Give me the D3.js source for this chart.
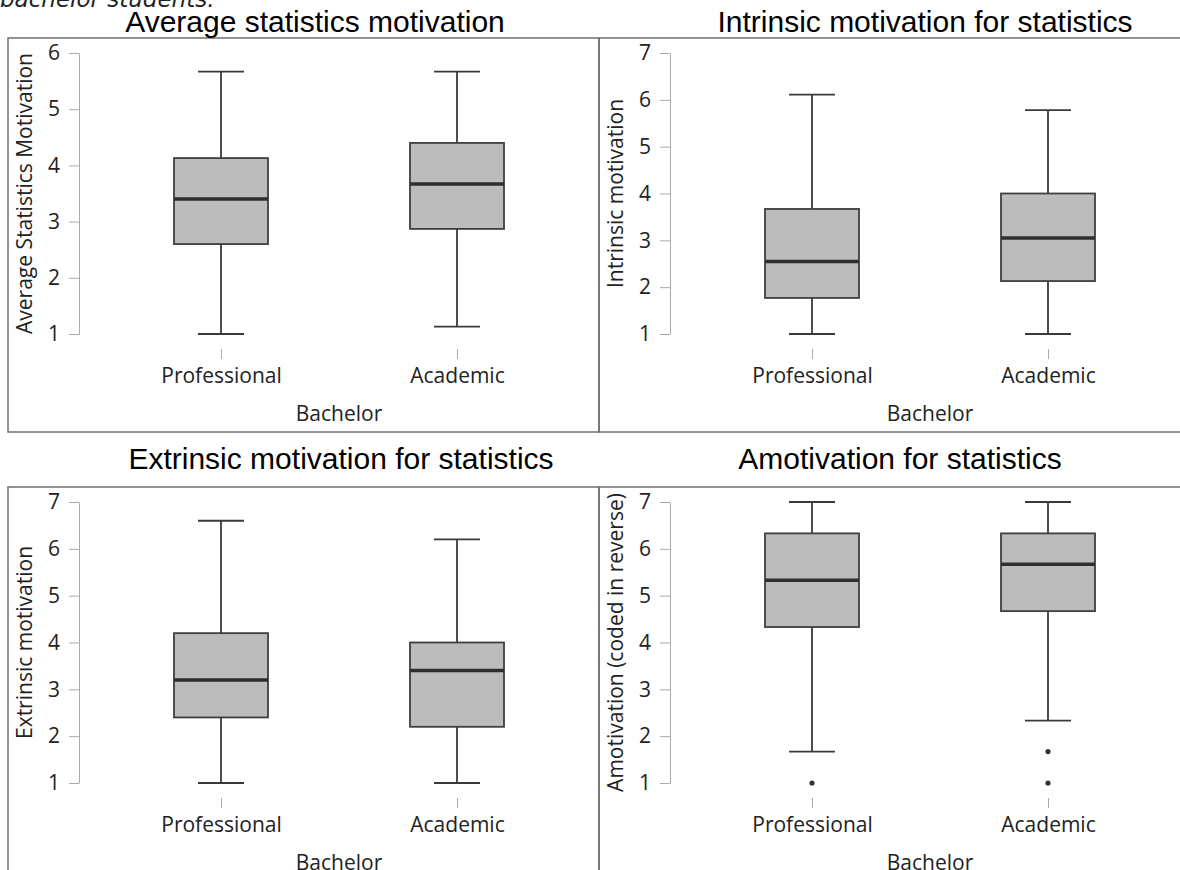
<!DOCTYPE html>
<html>
<head>
<meta charset="utf-8">
<script src="https://cdn.jsdelivr.net/npm/d3@7"></script>
<style>
  body { margin: 0; background: #fff; }
  svg { display: block; }
  .tick text { font-family: "Open Sans", sans-serif; font-size: 21px; fill: #222; }
</style>
</head>
<body>
<svg id="chart"></svg>
<script>
var width = 1180;
var height = 870;

// categories and labels
var categories = ["Professional", "Academic"];
var panelTitles = ["Average statistics motivation", "Intrinsic motivation for statistics",
                   "Extrinsic motivation for statistics", "Amotivation for statistics"];
var yTitles = ["Average Statistics Motivation", "Intrinsic motivation",
               "Extrinsic motivation", "Amotivation (coded in reverse)"];
var xTitle = "Bachelor";
var yTicksAverage = [1, 2, 3, 4, 5, 6];
var yTicksOther = [1, 2, 3, 4, 5, 6, 7];

// box stats: [low whisker, q1, median, q3, high whisker]
var avgProfessional = [1.00, 2.60, 3.40, 4.13, 5.67];
var avgAcademic     = [1.13, 2.87, 3.67, 4.40, 5.67];
var intProfessional = [1.00, 1.77, 2.55, 3.67, 6.11];
var intAcademic     = [1.00, 2.13, 3.05, 4.00, 5.78];
var extProfessional = [1.00, 2.40, 3.20, 4.20, 6.60];
var extAcademic     = [1.00, 2.20, 3.40, 4.00, 6.20];
var amoProfessional = [1.67, 4.33, 5.33, 6.33, 7.00];
var amoAcademic     = [2.33, 4.67, 5.67, 6.33, 7.00];

// outliers
var amoOutProfessional = [1.00];
var amoOutAcademic = [1.67, 1.00];

var svg = d3.select('#chart')
    .attr('width', width)
    .attr('height', height);

// caption left over from the page, cut off at the top
svg.append('text')
    .attr('x', 0)
    .attr('y', 7)
    .style('font-family', '"DejaVu Sans", sans-serif')
    .style('font-style', 'italic')
    .style('font-weight', 200)
    .style('font-size', '23px')
    .style('fill', '#222')
    .text('bachelor students.');

var panels = [
  { left: 8,   top: 38,  titleX: 315, titleY: 32,  ticks: yTicksAverage, stats: [avgProfessional, avgAcademic], out: [[], []] },
  { left: 599, top: 38,  titleX: 925, titleY: 32,  ticks: yTicksOther, stats: [intProfessional, intAcademic], out: [[], []] },
  { left: 8,   top: 487, titleX: 341, titleY: 469, ticks: yTicksOther, stats: [extProfessional, extAcademic], out: [[], []] },
  { left: 599, top: 487, titleX: 900, titleY: 469, ticks: yTicksOther, stats: [amoProfessional, amoAcademic], out: [amoOutProfessional, amoOutAcademic] }
];

panels.forEach(function(p, i){
  drawPanel(svg, p, i);
});

function drawPanel(obj, p, i){
  var g = obj.append('g');
  var frameW = (p.left < 100) ? 591 : 600;
  var frameH = 394;

  // frame
  g.append('rect')
      .attr('x', p.left)
      .attr('y', p.top)
      .attr('width', frameW)
      .attr('height', frameH)
      .style('fill', 'none')
      .style('stroke', '#707070')
      .style('stroke-width', 1.5);

  // title above the frame
  g.append('text')
      .attr('x', p.titleX)
      .attr('y', p.titleY)
      .attr('text-anchor', 'middle')
      .style('font-family', '"Liberation Sans", Arial, sans-serif')
      .style('font-size', '30px')
      .style('fill', '#000')
      .text(panelTitles[i]);

  var y0 = p.top + 296;   // value 1
  var y1 = p.top + 15;    // top tick
  var yScale = d3.scaleLinear()
      .domain([1, d3.max(p.ticks)])
      .range([y0, y1]);

  var xScale = d3.scalePoint()
      .domain(categories)
      .range([p.left + 213, p.left + 449]);

  // y axis
  var axisX = p.left + 71;
  var yAxis = g.append('g')
      .attr('transform', 'translate(' + axisX + ',0)')
      .call(d3.axisLeft(yScale).tickValues(p.ticks).tickFormat(d3.format('d'))
          .tickSize(10).tickSizeOuter(0).tickPadding(9));
  yAxis.select('.domain').style('stroke', '#aaa');
  yAxis.selectAll('.tick line').style('stroke', '#aaa');

  // y title
  g.append('text')
      .attr('transform', 'translate(' + (p.left + 24) + ',' + ((y0 + y1) / 2) + ') rotate(-90)')
      .attr('text-anchor', 'middle')
      .style('font-family', '"Open Sans", sans-serif')
      .style('font-size', '21px')
      .style('fill', '#222')
      .text(yTitles[i]);

  // x axis: ticks only, no line
  var xAxis = g.append('g')
      .attr('transform', 'translate(0,' + (y0 + 15) + ')')
      .call(d3.axisBottom(xScale).tickSize(10).tickSizeOuter(0));
  xAxis.select('.domain').remove();
  xAxis.selectAll('.tick line').style('stroke', '#aaa');
  xAxis.selectAll('.tick text').attr('y', 34).attr('dy', 0);

  g.append('text')
      .attr('x', (xScale(categories[0]) + xScale(categories[1])) / 2)
      .attr('y', y0 + 87)
      .attr('text-anchor', 'middle')
      .style('font-family', '"Open Sans", sans-serif')
      .style('font-size', '21px')
      .style('fill', '#222')
      .text(xTitle);

  var boxW = 94;
  var capW = 46;

  categories.forEach(function(c, j){
    var s = p.stats[j];
    var cx = xScale(c);
    var bg = g.append('g');

    // whiskers
    bg.append('line')
        .attr('x1', cx).attr('x2', cx)
        .attr('y1', yScale(s[4])).attr('y2', yScale(s[3]))
        .style('stroke', '#3a3a3a').style('stroke-width', 1.8);
    bg.append('line')
        .attr('x1', cx).attr('x2', cx)
        .attr('y1', yScale(s[1])).attr('y2', yScale(s[0]))
        .style('stroke', '#3a3a3a').style('stroke-width', 1.8);

    // caps
    [s[0], s[4]].forEach(function(v){
      bg.append('line')
          .attr('x1', cx - capW / 2).attr('x2', cx + capW / 2)
          .attr('y1', yScale(v)).attr('y2', yScale(v))
          .style('stroke', '#3a3a3a').style('stroke-width', 1.8);
    });

    // box
    bg.append('rect')
        .attr('x', cx - boxW / 2)
        .attr('y', yScale(s[3]))
        .attr('width', boxW)
        .attr('height', yScale(s[1]) - yScale(s[3]))
        .style('fill', '#bcbcbc')
        .style('stroke', '#3f3f3f')
        .style('stroke-width', 1.8);

    // median
    bg.append('line')
        .attr('x1', cx - boxW / 2).attr('x2', cx + boxW / 2)
        .attr('y1', yScale(s[2])).attr('y2', yScale(s[2]))
        .style('stroke', '#2e2e2e').style('stroke-width', 3.5);

    // outliers
    bg.selectAll('circle')
        .data(p.out[j])
        .enter().append('circle')
        .attr('cx', cx)
        .attr('cy', function(d){ return yScale(d); })
        .attr('r', 2.6)
        .style('fill', '#333');
  });
}
</script>
</body>
</html>
